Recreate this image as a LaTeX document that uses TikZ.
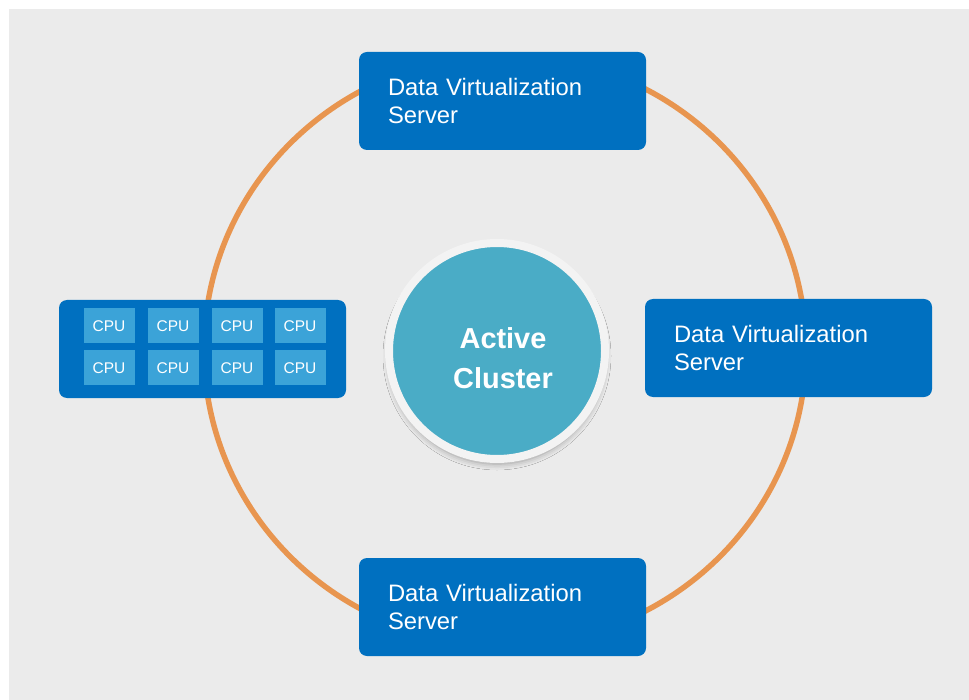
\documentclass[tikz,border=0pt]{standalone}
\usepackage{fontspec}
\setmainfont{Liberation Sans}
\usetikzlibrary{shadows.blur}
\pgfdeclarelayer{bg}
\pgfsetlayers{bg,main}
\definecolor{srvblue}{HTML}{0070C0}
\definecolor{cpublue}{HTML}{3BA3D8}
\definecolor{hubteal}{HTML}{4AACC6}
\definecolor{ringorange}{HTML}{E8954F}
\definecolor{bggray}{HTML}{EBEBEB}
\definecolor{hubwhite}{HTML}{F3F3F3}
\tikzset{
    server/.style={rectangle, rounded corners=8pt, fill=srvblue, text=white,
        minimum width=287pt, minimum height=98pt, text width=229pt,
        inner xsep=29pt, inner ysep=0pt, align=left,
        font=\fontsize{23.8}{28}\selectfont}
}
\tikzset{cpu/.style={rectangle, fill=cpublue, text=white, minimum width=51pt,
    minimum height=35pt, inner sep=0pt, font=\fontsize{15.5}{18}\selectfont}}
\tikzset{hub/.style={circle, fill=hubteal, draw=hubwhite, line width=8pt,
    minimum size=216pt, inner sep=0pt,
    blur shadow={shadow xshift=0pt, shadow yshift=-5pt, shadow blur radius=6pt, shadow opacity=35}}}
\tikzset{hubtext/.style={text=white, align=center, inner sep=0pt,
    font=\bfseries\fontsize{28.9}{40}\selectfont}}
\tikzset{ring/.style={draw=ringorange, line width=5.5pt}}

\begin{document}
\begin{tikzpicture}[x=1pt, y=-1pt]
    \useasboundingbox (0,0) rectangle (969,700);
    \node (srvtop) [server] at (502.5, 101) {Data Virtualization\\Server};
    \node (srvright) [server] at (788.5, 348) {Data Virtualization\\Server};
    \node (srvbottom) [server] at (502.5, 607) {Data Virtualization\\Server};
    \node (cpubox) [server] at (202.5, 349) {};
    \foreach \col/\x in {1/109, 2/173, 3/237, 4/300} {
        \foreach \row/\y in {1/326, 2/368} {
            \node (cpu\row\col) [cpu] at (\x, \y) {CPU};
        }
    }
    \node (hub) [hub] at (497, 351) {};
    \node (hublabel) [hubtext] at (503, 358) {Active\\Cluster};

    \begin{pgfonlayer}{bg}
        \fill[white] (0,0) rectangle (969,700);
        \fill[bggray] (9,9) rectangle (969,700);
        \coordinate (ringc) at (505, 350);
        \draw[ring] (ringc) ellipse [x radius=301, y radius=295];
    \end{pgfonlayer}
\end{tikzpicture}
\end{document}
